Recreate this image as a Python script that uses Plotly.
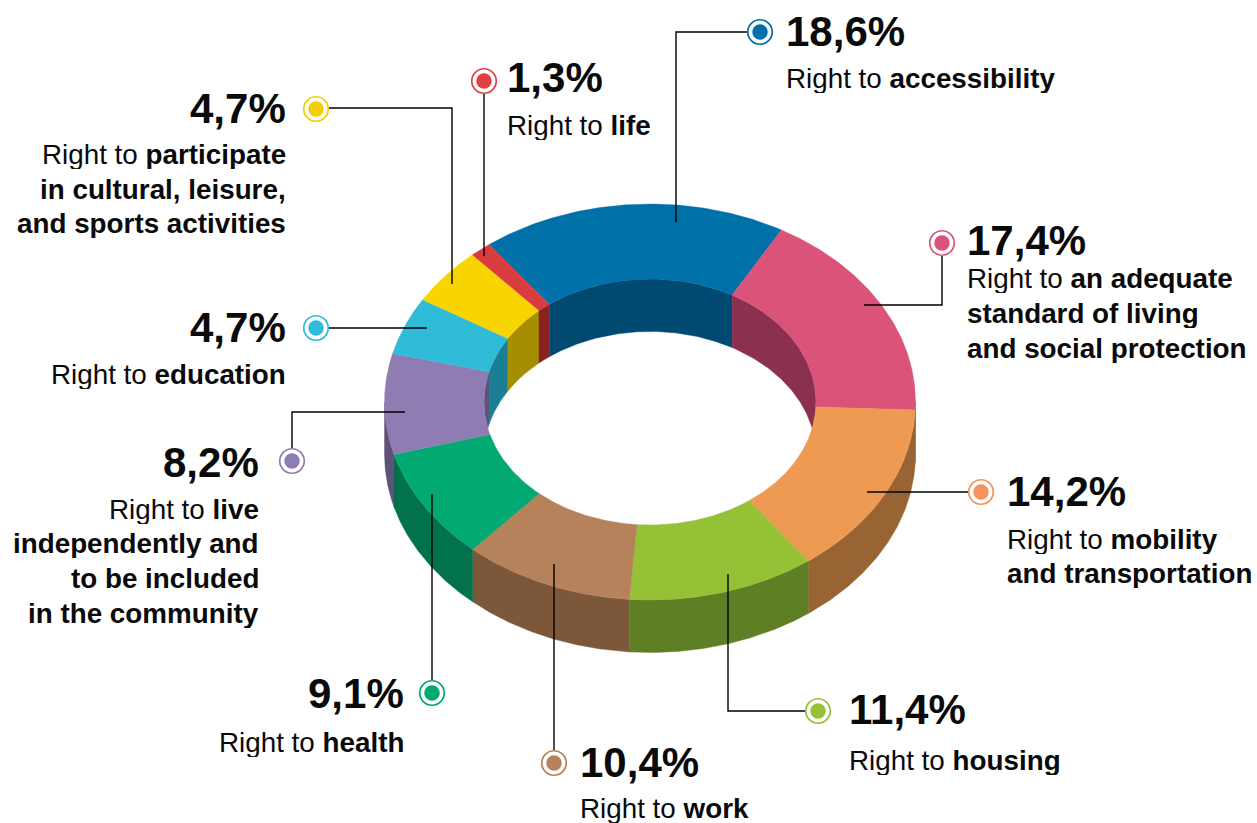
import numpy as np
import plotly.graph_objects as go

# ---- data -------------------------------------------------------------
categories = ["accessibility", "standard of living", "mobility", "housing", "work",
              "health", "live independently", "education", "participate", "life"]
values = [18.6, 17.4, 14.2, 11.4, 10.4, 9.1, 8.2, 4.7, 4.7, 1.3]
value_labels = ["18,6%", "17,4%", "14,2%", "11,4%", "10,4%", "9,1%", "8,2%", "4,7%", "4,7%", "1,3%"]
descriptions = [
    ["Right to <b>accessibility</b>"],
    ["Right to <b>an adequate</b>", "<b>standard of living</b>", "<b>and social protection</b>"],
    ["Right to <b>mobility</b>", "<b>and transportation</b>"],
    ["Right to <b>housing</b>"],
    ["Right to <b>work</b>"],
    ["Right to <b>health</b>"],
    ["Right to <b>live</b>", "<b>independently and</b>", "<b>to be included</b>", "<b>in the community</b>"],
    ["Right to <b>education</b>"],
    ["Right to <b>participate</b>", "<b>in cultural, leisure,</b>", "<b>and sports activities</b>"],
    ["Right to <b>life</b>"],
]
top_colors = ["#0070A8", "#DC5379", "#EE9A53", "#95C137", "#B6825B",
              "#02A972", "#8F7CB2", "#30BBD9", "#F8D500", "#D83C3E"]
side_colors = ["#004A72", "#8C3050", "#986434", "#5F7F24", "#7C573A",
               "#02724D", "#5E5279", "#1A7E95", "#A58E00", "#8A2220"]
marker_colors = ["#0070A8", "#DC5379", "#F4935B", "#95C137", "#B6825B",
                 "#02A972", "#8F7CB2", "#30BBD9", "#F5CC00", "#E04044"]

# ---- layout of the drawing (pixels of the page) ------------------------
W, H = 1257, 823
CX, CY = 650, 402
OUT_RX, OUT_RY = 265.5, 198
IN_RX, IN_RY = 166, 123
DEPTH = 52.5
START_DEG = -37.3

marker_xy = [(760, 32), (942, 243), (981, 492), (818, 711), (554, 763),
             (432, 693), (292, 461), (316, 328), (316, 109), (484, 81)]
leaders = [
    [(747, 32), (676, 32), (676, 222)],
    [(942, 256), (942, 305), (864, 305)],
    [(968, 492), (867, 492)],
    [(805, 711), (728, 711), (728, 574)],
    [(554, 750), (554, 564)],
    [(432, 680), (432, 494)],
    [(292, 448), (292, 412), (405, 412)],
    [(329, 328), (427, 328)],
    [(329, 108), (452, 108), (452, 284)],
    [(484, 94), (484, 256)],
]
text_anchor = [("left", 784.5), ("left", 965.5), ("left", 1005.5), ("left", 847.5), ("left", 578.5),
               ("right", 404.5), ("right", 259.5), ("right", 286.5), ("right", 286.5), ("left", 505.5)]
value_y = [31, 240, 491, 709, 762, 693, 462, 327, 108, 77]
desc_y = [[78], [278, 313, 348], [539, 573], [760], [808], [742],
          [509, 543, 578, 613], [374], [154, 189, 223], [125]]

FONT = "Liberation Sans"
VALUE_SIZE = 42
DESC_SIZE = 27.8
TEXT_COLOR = "#0A0A0A"


def ell(theta, rx, ry):
    return CX + rx * np.sin(theta), CY - ry * np.cos(theta)


def poly(fig, xs, ys, color):
    fig.add_trace(go.Scatter(x=xs, y=ys, mode="lines", fill="toself", fillcolor=color,
                             line=dict(color=color, width=0.4), hoverinfo="skip", showlegend=False))


fig = go.Figure()
edges = START_DEG + np.concatenate([[0], np.cumsum(values)]) * 3.6

# outer side wall: the front half of the ring
for i in range(len(values)):
    a0, a1 = edges[i], edges[i + 1]
    lo, hi = max(a0, 90), min(a1, 270)
    if hi > lo:
        th = np.radians(np.linspace(lo, hi, 80))
        x, y = ell(th, OUT_RX, OUT_RY)
        poly(fig, np.r_[x, x[::-1], x[0]], np.r_[y, y[::-1] + DEPTH, y[0]], side_colors[i])

# inner wall seen through the hole: the back half of the hole
for i in range(len(values)):
    a0, a1 = edges[i], edges[i + 1]
    for turn in (0, -360):
        lo, hi = max(a0 + turn, -90), min(a1 + turn, 90)
        if hi > lo:
            th = np.radians(np.linspace(lo, hi, 80))
            x, y = ell(th, IN_RX, IN_RY)
            s = np.sqrt(np.clip(1 - ((x - CX) / IN_RX) ** 2, 0, 1))
            bottom = np.minimum(y + DEPTH, CY + IN_RY * s)
            poly(fig, np.r_[x, x[::-1], x[0]], np.r_[y, bottom[::-1], y[0]], side_colors[i])

# top face
for i in range(len(values)):
    th = np.radians(np.linspace(edges[i], edges[i + 1], 120))
    xo, yo = ell(th, OUT_RX, OUT_RY)
    xi, yi = ell(th, IN_RX, IN_RY)
    poly(fig, np.r_[xo, xi[::-1], xo[0]], np.r_[yo, yi[::-1], yo[0]], top_colors[i])

# leader lines
shapes = []
for pts in leaders:
    path = "M " + " L ".join(f"{px} {py}" for px, py in pts)
    shapes.append(dict(type="path", path=path, xref="x", yref="y",
                       line=dict(color="#000000", width=1.4), layer="above"))

# markers
mx = [p[0] for p in marker_xy]
my = [p[1] for p in marker_xy]
fig.add_trace(go.Scatter(x=mx, y=my, mode="markers", hoverinfo="skip", showlegend=False,
                         marker=dict(size=24.5, color="white", line=dict(color=marker_colors, width=1.7))))
fig.add_trace(go.Scatter(x=mx, y=my, mode="markers", hoverinfo="skip", showlegend=False,
                         marker=dict(size=15.5, color=marker_colors, line=dict(width=0))))

# labels
annotations = []
for i in range(len(values)):
    side, ax = text_anchor[i]
    annotations.append(dict(x=ax, y=value_y[i], xref="x", yref="y", text=f"<b>{value_labels[i]}</b>",
                            showarrow=False, xanchor=side, yanchor="middle", borderpad=0,
                            font=dict(family=FONT, size=VALUE_SIZE, color=TEXT_COLOR)))
    for line, ly in zip(descriptions[i], desc_y[i]):
        annotations.append(dict(x=ax, y=ly, xref="x", yref="y", text=line, height=30,
                                showarrow=False, xanchor=side, yanchor="middle", borderpad=0,
                                font=dict(family=FONT, size=DESC_SIZE, color=TEXT_COLOR)))

fig.update_layout(
    width=W, height=H, margin=dict(l=0, r=0, t=0, b=0, pad=0),
    paper_bgcolor="white", plot_bgcolor="white", showlegend=False,
    xaxis=dict(range=[0, W], visible=False, fixedrange=True),
    yaxis=dict(range=[H, 0], visible=False, fixedrange=True),
    shapes=shapes, annotations=annotations,
)
fig.write_html("out.html", config={"displayModeBar": False},
               post_script="document.body.style.margin='0';document.body.style.overflow='hidden';")
